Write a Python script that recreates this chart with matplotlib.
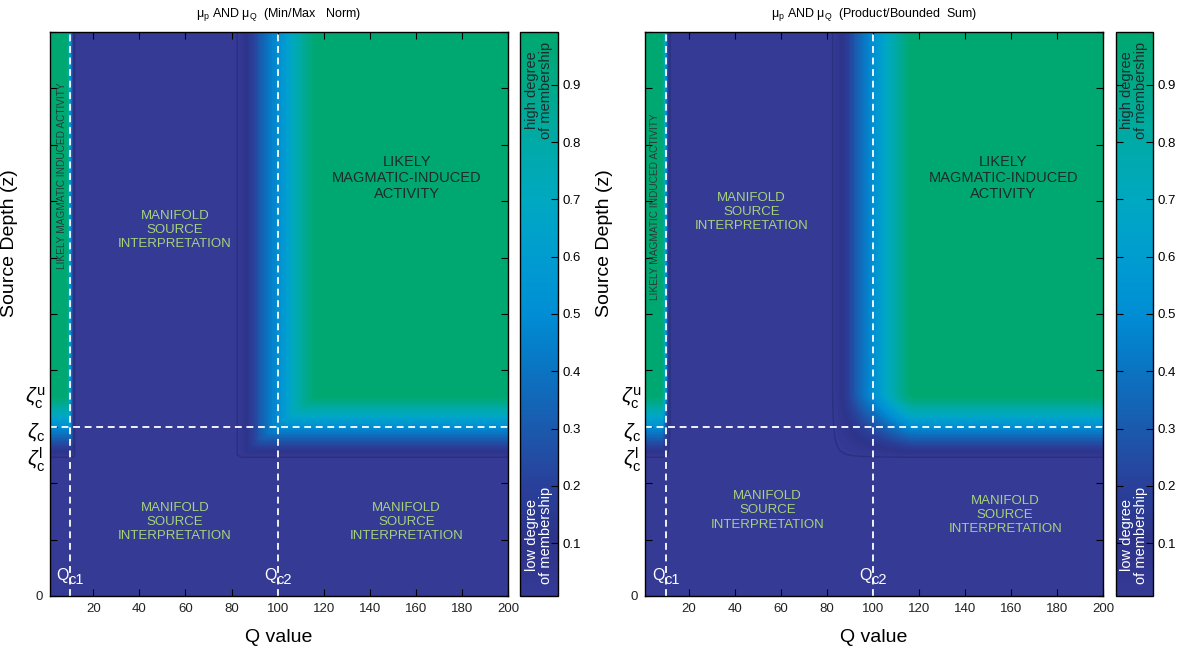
import numpy as np
import matplotlib
matplotlib.use("Agg")
import matplotlib.pyplot as plt
from matplotlib.colors import LinearSegmentedColormap, Normalize
from matplotlib.cm import ScalarMappable

plt.rcParams['font.family'] = ['Liberation Sans', 'DejaVu Sans']
plt.rcParams['mathtext.fontset'] = 'custom'
plt.rcParams['mathtext.rm'] = 'Liberation Sans'
plt.rcParams['mathtext.it'] = 'Liberation Sans:italic'

# ---- membership profiles ----
Q_pts = [1, 2, 4, 6, 8, 8.5, 9, 9.5, 10, 10.5, 11, 11.5, 12, 14, 20, 40, 60, 80,
         82, 84, 86, 88, 90, 92, 94, 96, 98, 100, 102, 104, 106, 108, 110, 112,
         114, 116, 118, 120, 140, 160, 180, 200]
mu_Q = [1, 1, 1, 1, 1, 0.95, 0.85, 0.68, 0.5, 0.32, 0.15, 0.05, 0, 0, 0, 0, 0, 0,
        0, 0.04, 0.09, 0.15, 0.21, 0.28, 0.34, 0.40, 0.45, 0.5, 0.56, 0.62, 0.68,
        0.74, 0.80, 0.86, 0.92, 0.97, 1, 1, 1, 1, 1, 1]

z_pts = [0, 0.1, 0.2, 0.24, 0.245, 0.25, 0.26, 0.27, 0.28, 0.29, 0.3, 0.31, 0.32,
         0.33, 0.34, 0.35, 0.355, 0.36, 0.4, 0.6, 0.8, 1.0]
mu_z = [0, 0, 0, 0, 0, 0.05, 0.14, 0.23, 0.32, 0.41, 0.5, 0.59, 0.68, 0.77, 0.86,
        0.95, 0.98, 1, 1, 1, 1, 1]

Qc1, Qc2, zeta_c = 10, 100, 0.3
xticks = [20, 40, 60, 80, 100, 120, 140, 160, 180, 200]
cb_ticks = [0.1, 0.2, 0.3, 0.4, 0.5, 0.6, 0.7, 0.8, 0.9]
titles = [r"μ$_{\mathrm{p}}$ AND μ$_{\mathrm{Q}}$  (Min/Max   Norm)",
          r"μ$_{\mathrm{p}}$ AND μ$_{\mathrm{Q}}$  (Product/Bounded  Sum)"]

cmap = LinearSegmentedColormap.from_list("memb", [
    (0.0, "#353A95"), (0.1, "#2D348A"), (0.2, "#29419B"), (0.3, "#1A5AAE"),
    (0.4, "#0A74C2"), (0.5, "#008ED4"), (0.6, "#009CD0"), (0.7, "#00A8C2"),
    (0.8, "#00AAA8"), (0.9, "#00A98A"), (1.0, "#00A870")])
norm = Normalize(0.008, 0.992)

MQ, MZ = np.meshgrid(np.array(mu_Q), np.array(mu_z))
fields = [np.minimum(MQ, MZ), MQ * MZ]

fig = plt.figure(figsize=(11.84, 6.53), dpi=100)
W, H = 1184, 653
ax_boxes = [(49.5, 508), (645, 1103)]
cb_boxes = [(520, 558), (1116, 1153)]
top, bot = 32, 596

light_green = "#A6D27A"
dark_txt = "#1E2B2B"

txt_pos = [
    dict(mu=(55.4, 0.649), lk=(156, 0.741), ll=(55.4, 0.131), lr=(156, 0.131), vt=(6.5, 0.746)),
    dict(mu=(47.2, 0.681), lk=(156.6, 0.741), ll=(54.2, 0.152), lr=(157.5, 0.144), vt=(5.4, 0.69)),
]

for k in range(2):
    x0, x1 = ax_boxes[k]
    ax = fig.add_axes([x0 / W, 1 - bot / H, (x1 - x0) / W, (bot - top) / H])
    ax.contourf(Q_pts, z_pts, fields[k], levels=np.linspace(0, 1.0001, 41),
                cmap=cmap, norm=norm)
    ax.contour(Q_pts, z_pts, fields[k], levels=[0.01], colors="#2A3080", linewidths=1.0)
    ax.set_xlim(1, 200)
    ax.set_ylim(0, 1)
    ls = (0, (3.8, 2.6))
    ax.axvline(Qc1, color="white", lw=1.3, ls=ls)
    ax.axvline(Qc2, color="white", lw=1.3, ls=ls)
    ax.axhline(zeta_c, color="white", lw=1.3, ls=ls)

    ax.set_xticks(xticks)
    ax.set_xticklabels([str(t) for t in xticks], fontsize=9.5, color="#222222")
    yt = np.round(np.arange(0, 1.001, 0.1), 2)
    ax.set_yticks(yt)
    ax.set_yticklabels(["0"] + [""] * (len(yt) - 1), fontsize=9.5, color="#222222")
    ax.tick_params(direction="in", top=True, right=True, length=5, width=0.8, pad=5)
    for s in ax.spines.values():
        s.set_linewidth(1.0)

    ax.set_xlabel("Q value", fontsize=14)
    ax.xaxis.set_label_coords(0.5, -0.058)
    ax.set_ylabel("Source Depth (z)", fontsize=14)
    ax.yaxis.set_label_coords(-0.069, 0.626)
    ax.set_title(titles[k], fontsize=9, pad=11)

    tr = ax.get_yaxis_transform()
    ax.text(-0.008, 0.351, r"$\zeta^{\rm u}_{\rm c}$", transform=tr, ha="right", va="center", fontsize=15)
    ax.text(-0.008, 0.291, r"$\zeta_{\rm c}$", transform=tr, ha="right", va="center", fontsize=15)
    ax.text(-0.008, 0.241, r"$\zeta^{\rm l}_{\rm c}$", transform=tr, ha="right", va="center", fontsize=15)

    for qc, sub in ((Qc1, "c1"), (Qc2, "c2")):
        ax.text(qc - 0.6, 0.037, "Q", color="white", ha="right", va="center", fontsize=11.5)
        ax.text(qc - 0.6, 0.028, sub, color="white", ha="left", va="center", fontsize=10.5)

    p = txt_pos[k]
    man = "MANIFOLD\nSOURCE\nINTERPRETATION"
    for key in ("mu", "ll", "lr"):
        ax.text(*p[key], man, color=light_green, ha="center", va="center",
                fontsize=9.5, linespacing=1.25)
    ax.text(*p["lk"], "LIKELY\nMAGMATIC-INDUCED\nACTIVITY", color=dark_txt,
            ha="center", va="center", fontsize=10.5, linespacing=1.2)
    ax.text(*p["vt"], "LIKELY MAGMATIC INDUCED ACTIVITY", color="#2A3A3A",
            rotation=90, ha="center", va="center", fontsize=7.3)

    # colorbar
    c0, c1 = cb_boxes[k]
    cax = fig.add_axes([c0 / W, 1 - bot / H, (c1 - c0) / W, (bot - top) / H])
    sm = ScalarMappable(norm=norm, cmap=cmap)
    cb = fig.colorbar(sm, cax=cax)
    cb.set_ticks(cb_ticks)
    cb.set_ticklabels([f"{t:.1f}" for t in cb_ticks])
    cax.tick_params(axis="y", left=True, right=True, direction="in", length=5,
                    labelsize=9.5, width=0.8)
    cb.outline.set_linewidth(1.0)
    cax.text(0.5, 0.897, "high degree\nof membership", transform=cax.transAxes,
             rotation=90, ha="center", va="center", fontsize=10.5, color=dark_txt,
             linespacing=1.0)
    cax.text(0.5, 0.108, "low degree\nof membership", transform=cax.transAxes,
             rotation=90, ha="center", va="center", fontsize=10.5, color="white",
             linespacing=1.0)

fig.savefig("out.png", dpi=100)
